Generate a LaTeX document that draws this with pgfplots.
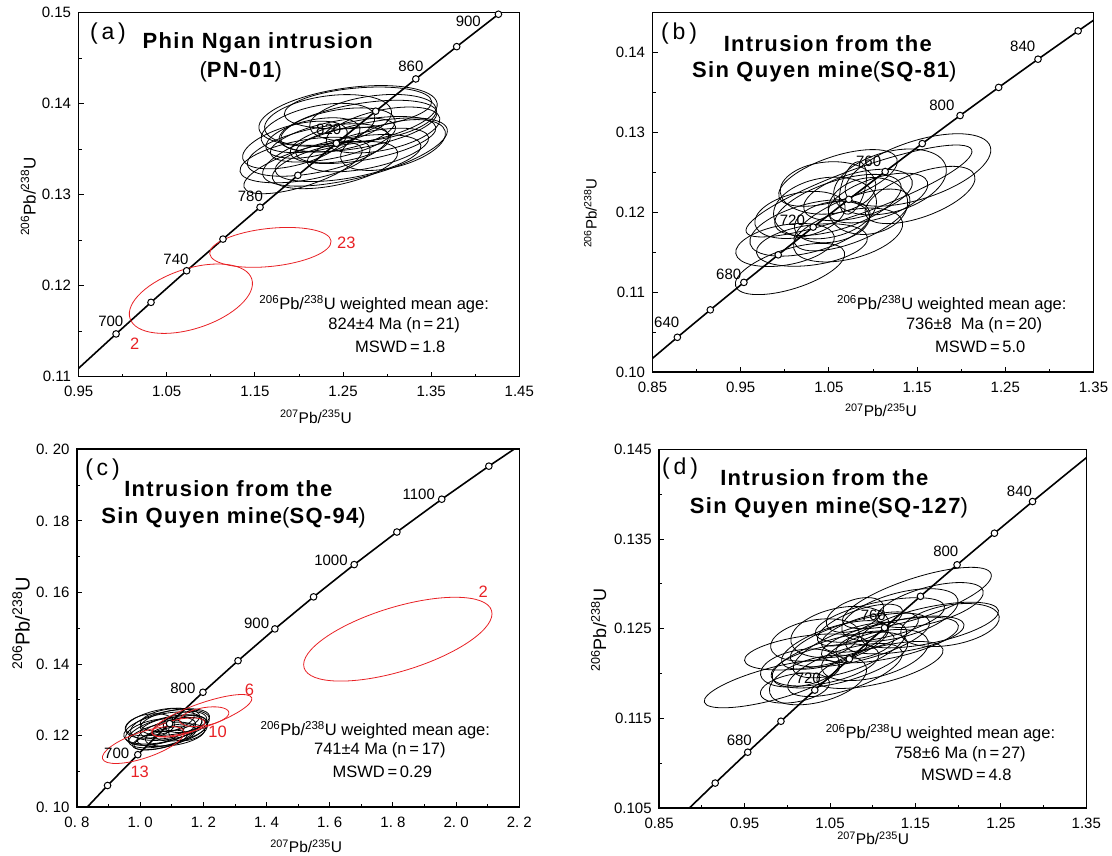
\documentclass[border=0pt]{standalone}
\usepackage{fontspec}
\setmainfont{Liberation Sans}
\usepackage{pgfplots}
\pgfplotsset{compat=1.18}
\definecolor{ered}{RGB}{232,32,36}
\pgfdeclareplotmark{emptymark}{}
\newcommand{\ttl}{\fontsize{22}{25}\selectfont\bfseries\addfontfeature{LetterSpace=6}}
\newcommand{\lbl}{\fontsize{15}{17}\selectfont}
\newcommand{\txt}{\fontsize{16.5}{19}\selectfont}
\newcommand{\pnl}{\fontsize{23}{26}\selectfont}
\newcommand{\pb}[2]{\textsuperscript{#1}Pb/\textsuperscript{#2}U}
\pgfplotsset{
  cdia/.style={scale only axis, anchor=south west,
    axis line style={line width=1.6pt},
    tick style={black, line width=0.9pt},
    major tick length=5pt, minor tick length=3pt,
    xtick pos=bottom, ytick pos=left, tick align=inside,
    ticklabel style={font=\lbl},
    yticklabel style={xshift=-4pt},
    xticklabel style={yshift=-6pt}},
  ell/.style={only marks, scatter, mark=emptymark,
    visualization depends on={\thisrow{a}*cos(\thisrow{t})\as\eAx},
    visualization depends on={\thisrow{a}*sin(\thisrow{t})\as\eAy},
    visualization depends on={-\thisrow{b}*sin(\thisrow{t})\as\eBx},
    visualization depends on={\thisrow{b}*cos(\thisrow{t})\as\eBy},
    scatter/@pre marker code/.code={%
      \begin{pgfscope}%
      \pgfpathellipse{\pgfpointorigin}{\pgfpoint{\eAx pt}{\eAy pt}}{\pgfpoint{\eBx pt}{\eBy pt}}%
      \pgfsetlinewidth{0.8pt}\pgfsetstrokecolor{#1}\pgfusepath{stroke}%
      \end{pgfscope}},
    scatter/@post marker code/.code={}},
  cline/.style={black, line width=1.6pt, mark=none},
  cdot/.style={only marks, mark=*, mark size=3.3pt, mark options={fill=white, draw=black, line width=1pt}},
}
\begin{document}
\begin{tikzpicture}
\path[use as bounding box] (0pt,0pt) rectangle (1112pt,855pt);
% ---------------- (a)
\begin{axis}[cdia, at={(78.6pt,478.3pt)}, width=440.7pt, height=364pt,
  xmin=0.95, xmax=1.45, ymin=0.11, ymax=0.15,
  xtick={0.95,1.05,1.15,1.25,1.35,1.45}, xticklabels={0.95,1.05,1.15,1.25,1.35,1.45},
  minor xtick={1.0,1.1,1.2,1.3,1.4},
  ytick={0.11,0.12,0.13,0.14,0.15}, yticklabels={0.11,0.12,0.13,0.14,0.15},
  minor ytick={0.115,0.125,0.135,0.145}]
\addplot[ell=black] table[row sep=\\] {x y a b t\\
1.2557 0.13865 90 28 8\\
1.2670 0.13755 80 22 10\\
1.2636 0.13469 95 26 14\\
1.2216 0.13491 72 22 12\\
1.2069 0.13381 66 20 10\\
1.2386 0.13601 64 18 12\\
1.2727 0.13601 74 20 10\\
1.2443 0.13711 58 20 10\\
1.2216 0.13733 58 22 12\\
1.2840 0.13843 64 22 8\\
1.1955 0.13546 54 20 15\\
1.2557 0.13403 74 20 10\\
1.2330 0.13821 64 24 8\\
1.2954 0.13711 58 20 12\\
1.2500 0.13546 48 16 10\\
1.2159 0.13623 48 18 12\\
1.2783 0.13491 62 18 12\\
1.2409 0.13326 64 20 12\\
1.2670 0.13953 74 20 5\\
1.2046 0.13293 62 18 18\\
1.3067 0.13546 54 22 15\\
};
\addplot[ell=ered] table[row sep=\\] {x y a b t\\
1.0774 0.11857 64 30 18\\
1.1676 0.12421 61 19 6\\
};
\addplot[cline] table[row sep=\\] {x y\\
0.91554 0.10781\\ 0.95365 0.11125\\ 0.99251 0.11470\\ 1.03215 0.11817\\
1.07257 0.12164\\ 1.11380 0.12512\\ 1.15585 0.12862\\ 1.19873 0.13213\\
1.24247 0.13565\\ 1.28708 0.13918\\ 1.33258 0.14272\\ 1.37898 0.14627\\
1.42630 0.14983\\ 1.47457 0.15340\\
};
\addplot[cdot] table[row sep=\\] {x y\\
0.99251 0.11470\\ 1.03215 0.11817\\ 1.07257 0.12164\\ 1.11380 0.12512\\
1.15585 0.12862\\ 1.19873 0.13213\\ 1.24247 0.13565\\ 1.28708 0.13918\\
1.33258 0.14272\\ 1.37898 0.14627\\ 1.42630 0.14983\\
};
\end{axis}
% ---------------- (b)
\begin{axis}[cdia, at={(652.5pt,482.7pt)}, width=441pt, height=359.6pt,
  xmin=0.85, xmax=1.35, ymin=0.10, ymax=0.145,
  xtick={0.85,0.95,1.05,1.15,1.25,1.35}, xticklabels={0.85,0.95,1.05,1.15,1.25,1.35},
  minor xtick={0.9,1.0,1.1,1.2,1.3},
  ytick={0.10,0.11,0.12,0.13,0.14}, yticklabels={0.10,0.11,0.12,0.13,0.14},
  minor ytick={0.105,0.115,0.125,0.135}]
\addplot[ell=black] table[row sep=\\] {x y a b t\\
1.0059 0.11293 57 20 17.5\\
1.1510 0.12532 76 29 18\\
1.0841 0.12269 120 22 20\\
1.0003 0.11593 50 20 10\\
1.0286 0.11806 62 24 15\\
1.0603 0.12094 66 24 18\\
1.0830 0.12219 56 22 15\\
1.0456 0.12056 52 30 10\\
1.0762 0.11906 62 22 22\\
1.1057 0.12181 52 20 18\\
1.0490 0.12307 48 26 5\\
1.0172 0.11969 46 22 12\\
1.1193 0.12382 58 30 16\\
1.0717 0.11718 56 24 14\\
1.0308 0.11593 56 20 8\\
1.0943 0.12081 40 28 10\\
1.0603 0.12432 62 22 18\\
1.1533 0.12219 58 22 20\\
1.0773 0.12307 27 12 75\\
1.0535 0.11881 38 20 10\\
};
\addplot[cline] table[row sep=\\] {x y\\
0.80561 0.09754\\ 0.84155 0.10096\\ 0.87818 0.10438\\ 0.91554 0.10781\\
0.95365 0.11125\\ 0.99251 0.11470\\ 1.03215 0.11817\\ 1.07257 0.12164\\
1.11380 0.12512\\ 1.15585 0.12862\\ 1.19873 0.13213\\ 1.24247 0.13565\\
1.28708 0.13918\\ 1.33258 0.14272\\ 1.37898 0.14627\\
};
\addplot[cdot] table[row sep=\\] {x y\\
0.87818 0.10438\\ 0.91554 0.10781\\ 0.95365 0.11125\\ 0.99251 0.11470\\
1.03215 0.11817\\ 1.07257 0.12164\\ 1.11380 0.12512\\ 1.15585 0.12862\\
1.19873 0.13213\\ 1.24247 0.13565\\ 1.28708 0.13918\\ 1.33258 0.14272\\
};
\end{axis}
% ---------------- (c)
\begin{axis}[cdia, at={(77pt,47.7pt)}, width=442.3pt, height=358pt,
  xmin=0.8, xmax=2.2, ymin=0.10, ymax=0.20,
  xtick={0.8,1.0,1.2,1.4,1.6,1.8,2.0,2.2},
  xticklabels={0.\ 8,1.\ 0,1.\ 2,1.\ 4,1.\ 6,1.\ 8,2.\ 0,2.\ 2},
  minor xtick={0.9,1.1,1.3,1.5,1.7,1.9,2.1},
  ytick={0.10,0.12,0.14,0.16,0.18,0.20},
  yticklabels={0.\ 10,0.\ 12,0.\ 14,0.\ 16,0.\ 18,0.\ 20},
  minor ytick={0.11,0.13,0.15,0.17,0.19}]
\addplot[ell=black] table[row sep=\\] {x y a b t\\
1.0627 0.12383 35 12 12\\
1.0944 0.12299 40 14 10\\
1.0786 0.12159 38 12 15\\
1.0469 0.12103 30 12 12\\
1.1102 0.12383 35 12 10\\
1.0691 0.12020 34 11 12\\
1.0881 0.12215 28 10 10\\
1.1261 0.12215 28 12 12\\
1.0311 0.12271 25 12 8\\
1.1007 0.12103 36 12 14\\
1.0722 0.12215 40 14 12\\
1.1419 0.12383 22 10 10\\
1.0786 0.11936 32 9 15\\
1.1102 0.12020 30 10 10\\
1.0627 0.11880 28 8 12\\
1.0944 0.12439 30 11 8\\
1.1514 0.12215 20 12 15\\
};
\addplot[ell=ered] table[row sep=\\] {x y a b t\\
1.8155 0.14696 98 32 17\\
1.1951 0.12564 53 12 19.5\\
1.2027 0.12531 25 9 10\\
1.1207 0.12229 27 8 12\\
1.0099 0.11740 43 13 18.7\\
};
\addplot[cline] table[row sep=\\] {x y\\
0.80561 0.09754\\ 0.89677 0.10609\\ 0.99251 0.11470\\ 1.09308 0.12338\\
1.19873 0.13213\\ 1.30972 0.14094\\ 1.42630 0.14983\\ 1.54878 0.15878\\
1.67741 0.16780\\ 1.81255 0.17689\\ 1.95452 0.18606\\ 2.10364 0.19529\\
2.26030 0.20460\\
};
\addplot[cdot] table[row sep=\\] {x y\\
0.89677 0.10609\\ 0.99251 0.11470\\ 1.09308 0.12338\\
1.19873 0.13213\\ 1.30972 0.14094\\ 1.42630 0.14983\\ 1.54878 0.15878\\
1.67741 0.16780\\ 1.81255 0.17689\\ 1.95452 0.18606\\ 2.10364 0.19529\\
};
\end{axis}
% ---------------- (d)
\begin{axis}[cdia, at={(659.2pt,46.7pt)}, width=427.1pt, height=359pt,
  xmin=0.85, xmax=1.35, ymin=0.105, ymax=0.145,
  xtick={0.85,0.95,1.05,1.15,1.25,1.35}, xticklabels={0.85,0.95,1.05,1.15,1.25,1.35},
  minor xtick={0.9,1.0,1.1,1.2,1.3},
  ytick={0.105,0.115,0.125,0.135,0.145}, yticklabels={0.105,0.115,0.125,0.135,0.145},
  minor ytick={0.11,0.12,0.13,0.14}]
\addplot[ell=black] table[row sep=\\] {x y a b t\\
0.9820 0.11885 70 16 15\\
1.1517 0.12843 78 20 18\\
1.1670 0.12542 70 18 12\\
1.0218 0.12242 62 16 8\\
1.0359 0.11930 50 22 15\\
1.0616 0.12152 70 22 15\\
1.0850 0.12375 72 20 15\\
1.1084 0.12598 66 18 12\\
1.0733 0.12264 60 20 20\\
1.0967 0.12464 50 16 15\\
1.0558 0.12320 56 18 18\\
1.1318 0.12654 60 22 15\\
1.0441 0.12097 55 18 12\\
1.1201 0.12375 70 18 12\\
1.0850 0.12542 45 15 20\\
1.0675 0.12041 60 20 18\\
1.1377 0.12431 60 16 10\\
1.0324 0.12375 45 20 10\\
1.1026 0.12208 55 22 15\\
1.1670 0.12765 55 18 15\\
1.0148 0.12063 40 18 10\\
1.0792 0.12654 30 15 20\\
1.0909 0.12320 30 12 15\\
1.0089 0.11840 35 14 10\\
1.1904 0.12542 50 20 10\\
1.1084 0.12097 65 18 14\\
1.0616 0.12464 50 24 12\\
};
\addplot[cline] table[row sep=\\] {x y\\
0.87818 0.10438\\ 0.91554 0.10781\\ 0.95365 0.11125\\ 0.99251 0.11470\\
1.03215 0.11817\\ 1.07257 0.12164\\ 1.11380 0.12512\\ 1.15585 0.12862\\
1.19873 0.13213\\ 1.24247 0.13565\\ 1.28708 0.13918\\ 1.33258 0.14272\\
1.37898 0.14627\\
};
\addplot[cdot] table[row sep=\\] {x y\\
0.91554 0.10781\\ 0.95365 0.11125\\ 0.99251 0.11470\\
1.03215 0.11817\\ 1.07257 0.12164\\ 1.11380 0.12512\\ 1.15585 0.12862\\
1.19873 0.13213\\ 1.24247 0.13565\\ 1.28708 0.13918\\
};
\end{axis}
% ---------------- texts (a)
\node[font=\pnl] at (108.0pt,821.7pt) {(\,a\,)};
\node[font=\ttl] at (257.8pt,811.7pt) {Phin Ngan intrusion};
\node[font=\ttl] at (240.8pt,783.3pt) {{\mdseries(}PN-01{\mdseries)}};
\begin{scope}[font=\lbl]
\node at (110.8pt,533.3pt) {700};
\node at (176.0pt,596.0pt) {740};
\node at (250.4pt,659.0pt) {780};
\node at (328.7pt,725.7pt) {820};
\node at (410.9pt,788.3pt) {860};
\node at (468.3pt,833.3pt) {900};
\end{scope}
\node[font=\txt, text=ered] at (346.4pt,611.7pt) {23};
\node[font=\txt, text=ered] at (134.6pt,511.7pt) {2};
\node[font=\txt] at (374.2pt,551.0pt) {\pb{206}{238} weighted mean age:};
\node[font=\txt] at (394.2pt,530.0pt) {824±4 Ma (n\,=\,21)};
\node[font=\txt] at (400.2pt,508.3pt) {MSWD\,=\,1.8};
\node[font=\fontsize{15.5}{18}\selectfont] at (315.9pt,438.3pt) {\pb{207}{235}};
\node[font=\fontsize{17}{19}\selectfont, rotate=90] at (28.3pt,658.3pt) {\pb{206}{238}};
% ---------------- texts (b)
\node[font=\pnl] at (679.1pt,821.7pt) {(\,b\,)};
\node[font=\ttl] at (827.8pt,811.7pt) {Intrusion from the};
\node[font=\ttl] at (824.3pt,783.3pt) {Sin Quyen mine{\mdseries(}SQ-81{\mdseries)}};
\begin{scope}[font=\lbl]
\node at (666.7pt,532.3pt) {640};
\node at (728.7pt,581.0pt) {680};
\node at (792.4pt,635.0pt) {720};
\node at (868.6pt,693.3pt) {760};
\node at (941.9pt,750.0pt) {800};
\node at (1022.7pt,808.3pt) {840};
\end{scope}
\node[font=\txt] at (951.8pt,551.0pt) {\pb{206}{238} weighted mean age:};
\node[font=\txt] at (974.1pt,530.0pt) {736±8\ \ Ma (n\,=\,20)};
\node[font=\txt] at (980.2pt,508.3pt) {MSWD\,=\,5.0};
\node[font=\fontsize{15.5}{18}\selectfont] at (881.0pt,445.0pt) {\pb{207}{235}};
\node[font=\fontsize{15}{18}\selectfont, rotate=90] at (590.5pt,641.7pt) {\pb{206}{238}};
% ---------------- texts (c)
\node[font=\pnl] at (102.5pt,385.0pt) {(\,c\,)};
\node[font=\ttl] at (228.3pt,366.0pt) {Intrusion from the};
\node[font=\ttl] at (233.6pt,336.7pt) {Sin Quyen mine{\mdseries(}SQ-94{\mdseries)}};
\begin{scope}[font=\lbl]
\node at (116.7pt,101.7pt) {700};
\node at (182.9pt,166.7pt) {800};
\node at (256.6pt,231.7pt) {900};
\node at (331.0pt,295.0pt) {1000};
\node at (418.8pt,361.0pt) {1100};
\end{scope}
\node[font=\txt, text=ered] at (483.3pt,263.3pt) {2};
\node[font=\txt, text=ered] at (249.5pt,165.0pt) {6};
\node[font=\txt, text=ered] at (217.6pt,122.7pt) {10};
\node[font=\txt, text=ered] at (139.7pt,83.3pt) {13};
\node[font=\txt] at (375.3pt,125.0pt) {\pb{206}{238} weighted mean age:};
\node[font=\txt] at (379.9pt,105.0pt) {741±4 Ma (n\,=\,17)};
\node[font=\txt] at (382.3pt,83.3pt) {MSWD\,=\,0.29};
\node[font=\fontsize{15.5}{18}\selectfont] at (306.2pt,8.5pt) {\pb{207}{235}};
\node[font=\fontsize{20}{22}\selectfont, rotate=90] at (21.0pt,231.7pt) {\pb{206}{238}};
% ---------------- texts (d)
\node[font=\pnl] at (680.1pt,386.7pt) {(\,d\,)};
\node[font=\ttl] at (824.3pt,377.3pt) {Intrusion from the};
\node[font=\ttl] at (828.9pt,347.3pt) {Sin Quyen mine{\mdseries(}SQ-127{\mdseries)}};
\begin{scope}[font=\lbl]
\node at (739.3pt,115.0pt) {680};
\node at (808.3pt,176.7pt) {720};
\node at (873.3pt,240.0pt) {760};
\node at (945.8pt,303.3pt) {800};
\node at (1019.5pt,364.0pt) {840};
\end{scope}
\node[font=\txt] at (940.5pt,121.7pt) {\pb{206}{238} weighted mean age:};
\node[font=\txt] at (960.0pt,100.7pt) {758±6 Ma (n\,=\,27)};
\node[font=\txt] at (966.3pt,80.0pt) {MSWD\,=\,4.8};
\node[font=\fontsize{15.5}{18}\selectfont] at (873.2pt,16.7pt) {\pb{207}{235}};
\node[font=\fontsize{18}{20}\selectfont, rotate=90] at (598.6pt,225.0pt) {\pb{206}{238}};
\end{tikzpicture}
\end{document}
